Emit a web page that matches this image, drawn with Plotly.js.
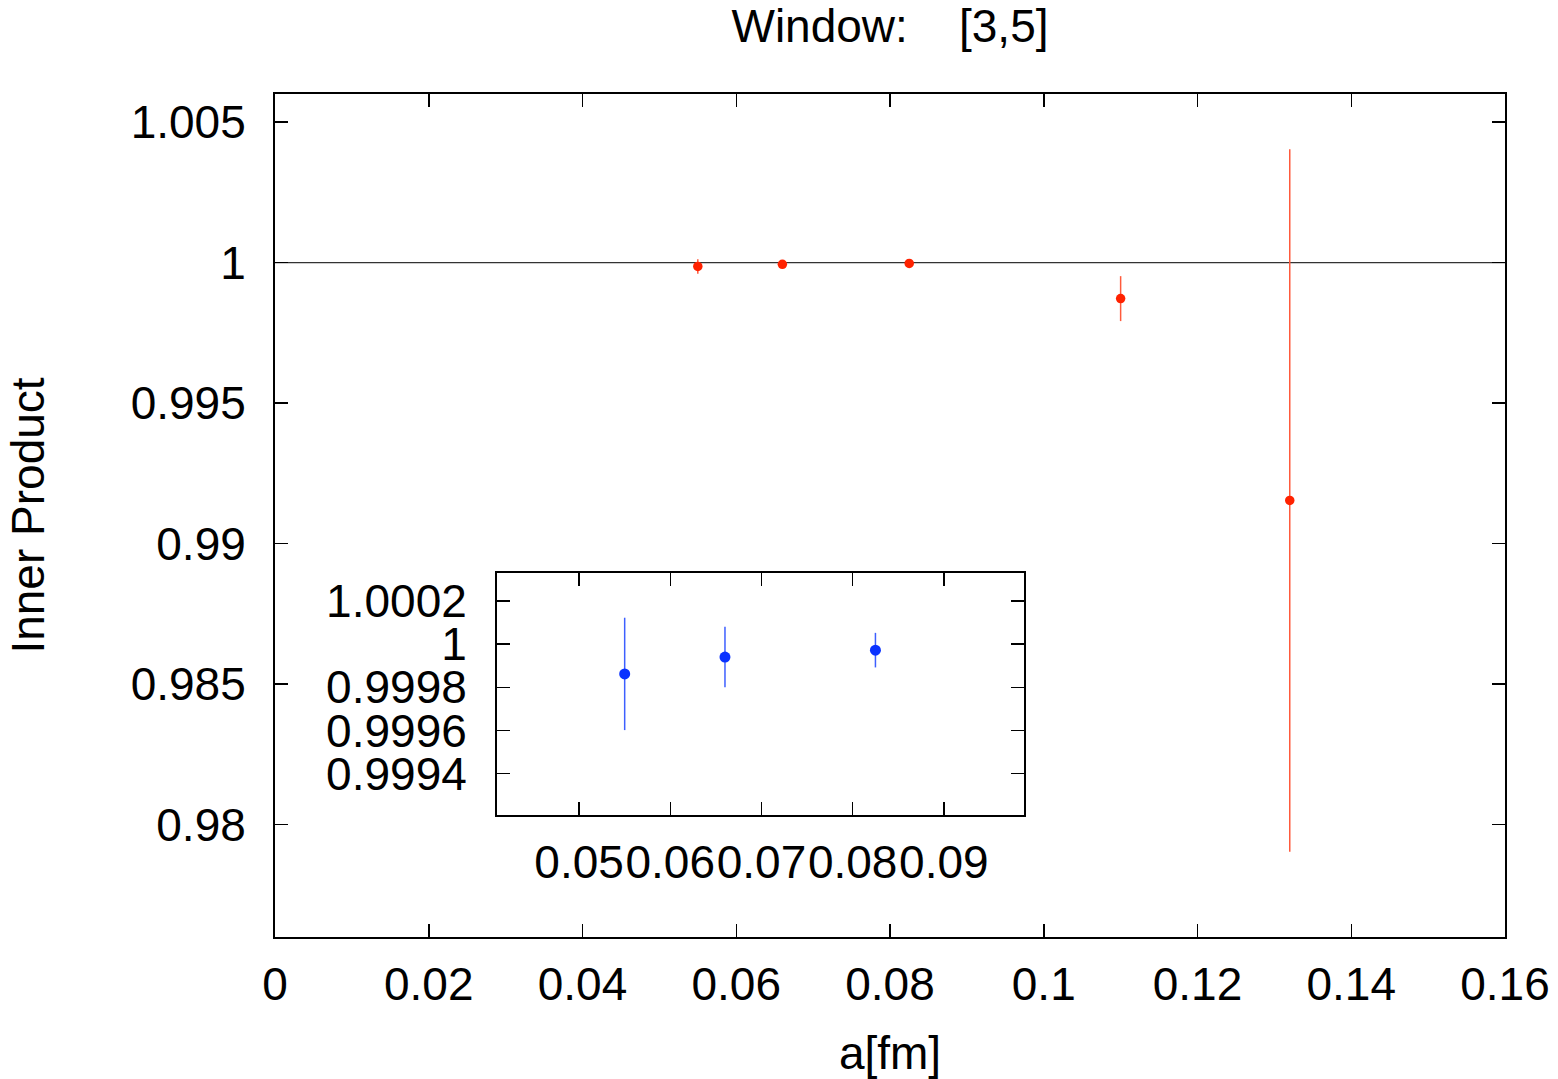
<!DOCTYPE html>
<html>
<head>
<meta charset="utf-8">
<script src="https://cdn.plot.ly/plotly-3.0.1.min.js"></script>
<style>html,body{margin:0;padding:0;background:#fff;}#chart{width:1558px;height:1079px;}</style>
</head>
<body>
<div id="chart"></div>
<script>
// Main plot data
const aMain = [0.0550, 0.0660, 0.0825, 0.1100, 0.1320];
const ipMain = [0.999862, 0.99994, 0.999972, 0.998718, 0.991535];
const errMain = [0.00026, 0.00014, 0.00008, 0.0008, 0.0125];

// Inset data
const aInset = [0.0550, 0.0660, 0.0825];
const ipInset = [0.999862, 0.99994, 0.999972];
const errInset = [0.00026, 0.00014, 0.00008];

// Tick labels
const xTickVals = [0, 0.02, 0.04, 0.06, 0.08, 0.1, 0.12, 0.14, 0.16];
const xTickText = ['0', '0.02', '0.04', '0.06', '0.08', '0.1', '0.12', '0.14', '0.16'];
const yTickVals = [0.98, 0.985, 0.99, 0.995, 1, 1.005];
const yTickText = ['0.98', '0.985', '0.99', '0.995', '1', '1.005'];
const x2TickVals = [0.05, 0.06, 0.07, 0.08, 0.09];
const x2TickText = ['0.05', '0.06', '0.07', '0.08', '0.09'];
const y2TickVals = [0.9994, 0.9996, 0.9998, 1, 1.0002];
const y2TickText = ['0.9994', '0.9996', '0.9998', '1', '1.0002'];

const refLevel = 1;

const FONT = '"Liberation Sans", Arial, Helvetica, sans-serif';
const FS = 46;

const traces = [
  {
    type: 'scatter', mode: 'markers', x: aMain, y: ipMain,
    xaxis: 'x', yaxis: 'y',
    marker: {color: '#ff2200', size: 9.5},
    error_y: {type: 'data', array: errMain, visible: true, color: '#ff5a3c', thickness: 1.5, width: 0},
    showlegend: false, hoverinfo: 'x+y'
  },
  {
    type: 'scatter', mode: 'markers', x: aInset, y: ipInset,
    xaxis: 'x2', yaxis: 'y2',
    marker: {color: '#0a32ff', size: 11},
    error_y: {type: 'data', array: errInset, visible: true, color: '#3d5fff', thickness: 1.5, width: 0},
    showlegend: false, hoverinfo: 'x+y'
  }
];

const axCommon = {
  showgrid: false, zeroline: false, showline: true, linecolor: '#000', linewidth: 2,
  mirror: 'allticks', ticks: 'inside', ticklen: 13, tickwidth: 1.5, tickcolor: '#000',
  tickfont: {family: FONT, size: FS, color: '#000'}, tickangle: 0
};

const layout = {
  width: 1558, height: 1079,
  margin: {l: 275, r: 53, t: 94, b: 142},
  paper_bgcolor: '#fff', plot_bgcolor: '#fff',
  font: {family: FONT, color: '#000'},
  title: {
    text: 'Window:\u00A0\u00A0\u00A0\u00A0[3,5]',
    font: {family: FONT, size: FS, color: '#000'},
    x: 0.5, xref: 'paper', xanchor: 'center',
    y: 1 - 26/1079, yref: 'container', yanchor: 'middle'
  },
  xaxis: Object.assign({}, axCommon, {
    domain: [0, 1], range: [0, 0.16], anchor: 'y',
    tickmode: 'array', tickvals: xTickVals, ticktext: xTickText,
    ticklabelstandoff: 6,
    title: {text: 'a[fm]', font: {family: FONT, size: FS, color: '#000'}, standoff: 28}
  }),
  yaxis: Object.assign({}, axCommon, {
    domain: [0, 1], range: [0.976, 1.006], anchor: 'x',
    tickmode: 'array', tickvals: yTickVals, ticktext: yTickText,
    ticklabelstandoff: 18,
    title: {text: 'Inner Product', font: {family: FONT, size: FS, color: '#000'}, standoff: 72}
  }),
  xaxis2: Object.assign({}, axCommon, {
    domain: [0.1805, 0.609], range: [0.041, 0.0988], anchor: 'y2',
    tickmode: 'array', tickvals: x2TickVals, ticktext: x2TickText,
    ticklabelstandoff: 6
  }),
  yaxis2: Object.assign({}, axCommon, {
    domain: [0.1447, 0.4318], range: [0.999209, 1.000329], anchor: 'x2',
    tickmode: 'array', tickvals: y2TickVals, ticktext: y2TickText,
    ticklabelstandoff: 19
  }),
  shapes: [
    {type: 'line', xref: 'x domain', yref: 'y', x0: 0, x1: 1, y0: refLevel, y1: refLevel,
     line: {color: '#333', width: 1.2}, layer: 'below'},
    {type: 'line', xref: 'x2 domain', yref: 'y2', x0: 0, x1: 1, y0: refLevel, y1: refLevel,
     line: {color: '#333', width: 1.2}, layer: 'below'}
  ]
};

Plotly.newPlot('chart', traces, layout, {displayModeBar: false, staticPlot: true});
</script>
</body>
</html>
